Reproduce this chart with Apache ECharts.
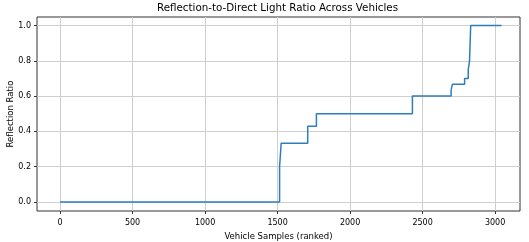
<!DOCTYPE html>
<html><head><meta charset="utf-8">
<script src="https://cdn.jsdelivr.net/npm/echarts@6/dist/echarts.min.js"></script>
<style>html,body{margin:0;padding:0;background:#fff}#c{width:529px;height:242px}</style>
</head><body><div id="c"></div>
<script>
// Breakpoints of the step curve: sample rank where ratio changes, and the ratio held from there
const sampleRanks = [0, 1514, 1525, 1708, 1768, 2430, 2697, 2706, 2790, 2815, 2824, 2832, 3045];
const ratios      = [0.0, 0.2, 0.3333, 0.4286, 0.5, 0.6, 0.635, 0.6667, 0.7, 0.75, 0.8, 1.0, 1.0];
const xTicks = [0, 500, 1000, 1500, 2000, 2500, 3000];
const yTicks = [0.0, 0.2, 0.4, 0.6, 0.8, 1.0];
const titleText = 'Reflection-to-Direct Light Ratio Across Vehicles';
const xName = 'Vehicle Samples (ranked)';
const yName = 'Reflection Ratio';

const font = 'DejaVu Sans';
const chart = echarts.init(document.getElementById('c'), null, {renderer: 'canvas'});
chart.setOption({
  animation: false,
  title: {text: titleText, left: 157, top: 3, padding: 0,
    textStyle: {fontFamily: font, fontSize: 10.3, fontWeight: 'normal', color: '#000'}},
  grid: {left: 37, right: 9, top: 17, bottom: 31, outerBoundsMode: 'none', containLabel: false,
    show: true, borderColor: '#333', borderWidth: 1, backgroundColor: 'transparent'},
  xAxis: {type: 'value', min: -159, max: 3172,
    name: xName, nameLocation: 'middle', nameGap: 21, nameMoveOverlap: false,
    nameTextStyle: {fontFamily: font, fontSize: 8.5, color: '#000'},
    axisLine: {show: false, onZero: false},
    axisTick: {show: true, length: 3, customValues: xTicks, lineStyle: {color: '#333'}},
    axisLabel: {customValues: xTicks, fontFamily: font, fontSize: 8, color: '#000', margin: 8,
      formatter: v => String(v)},
    splitLine: {show: true, lineStyle: {color: '#cfcfcf', width: 1}}
  },
  yAxis: {type: 'value', min: -0.051, max: 1.048,
    name: yName, nameLocation: 'middle', nameGap: 22, nameMoveOverlap: false,
    nameTextStyle: {fontFamily: font, fontSize: 8.5, color: '#000'},
    axisLine: {show: false, onZero: false},
    axisTick: {show: true, length: 3, customValues: yTicks, lineStyle: {color: '#333'}},
    axisLabel: {customValues: yTicks, fontFamily: font, fontSize: 8, color: '#000', margin: 6,
      formatter: v => v.toFixed(1)},
    splitLine: {show: true, lineStyle: {color: '#cfcfcf', width: 1}}
  },
  series: [{
    type: 'line', step: 'end', showSymbol: false,
    data: sampleRanks.map((x, i) => [x, ratios[i]]),
    lineStyle: {color: '#2f7ebc', width: 1.5}
  }]
});
</script></body></html>
